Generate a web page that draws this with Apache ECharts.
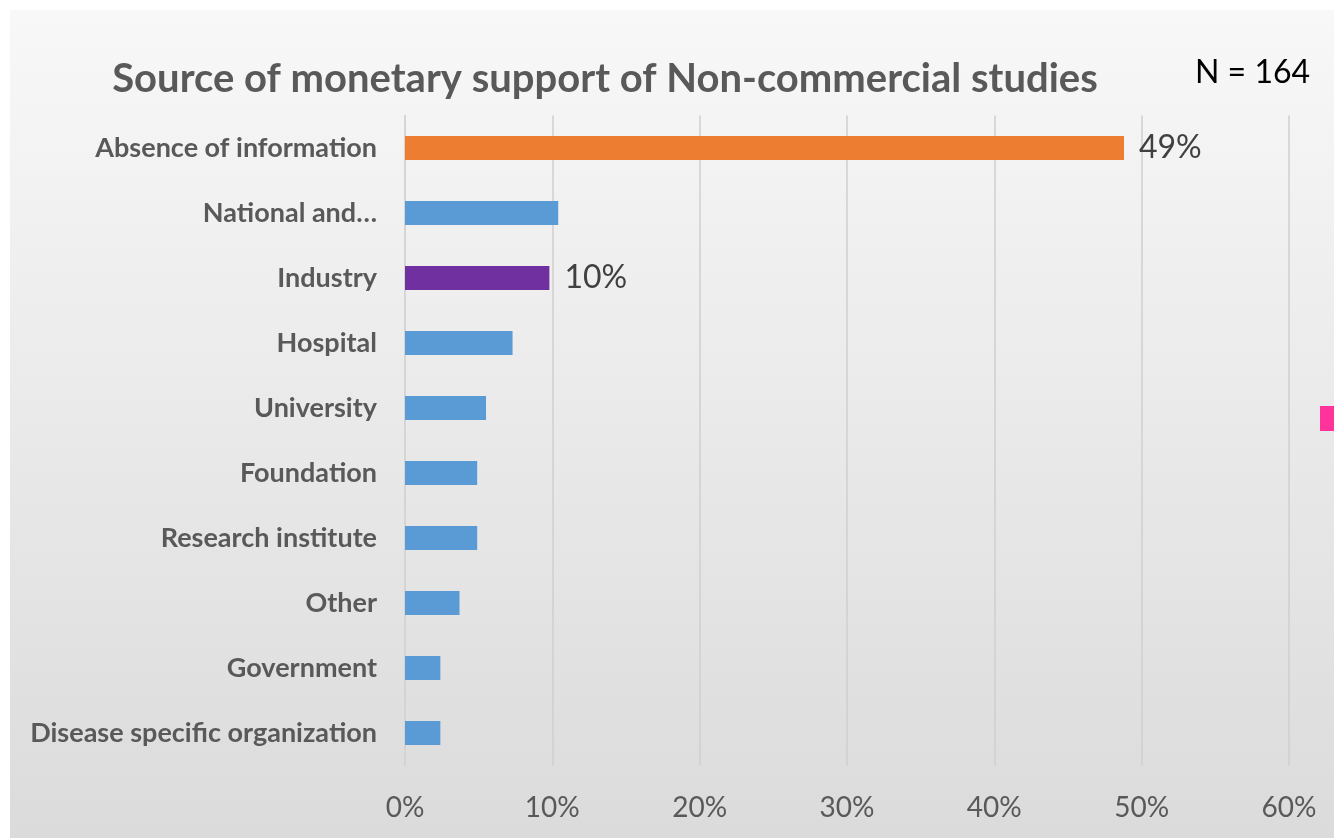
<!DOCTYPE html>
<html>
<head>
<meta charset="utf-8">
<script src="https://cdn.jsdelivr.net/npm/echarts@6/dist/echarts.min.js"></script>
<style>
  html, body { margin: 0; padding: 0; background: #fff; }
  #main { position: absolute; left: 10px; top: 10px; width: 1324px; height: 828px; }
</style>
</head>
<body>
<div id="main"></div>
<script>
const categories = [
  "Absence of information",
  "National and…",
  "Industry",
  "Hospital",
  "University",
  "Foundation",
  "Research institute",
  "Other",
  "Government",
  "Disease specific organization"
];
// share of studies, percent (N = 164)
const values = [48.8, 10.4, 9.8, 7.3, 5.5, 4.9, 4.9, 3.7, 2.4, 2.4];
const barColors = ["#ED7D31", "#5B9BD5", "#7030A0", "#5B9BD5", "#5B9BD5",
  "#5B9BD5", "#5B9BD5", "#5B9BD5", "#5B9BD5", "#5B9BD5"];
const shownLabels = ["49%", "", "10%", "", "", "", "", "", "", ""];
const tickValues = [0, 10, 20, 30, 40, 50, 60];

const chart = echarts.init(document.getElementById("main"));

const option = {
  backgroundColor: new echarts.graphic.LinearGradient(0, 0, 0, 1, [
    { offset: 0, color: "#f8f8f8" },
    { offset: 1, color: "#dbdbdb" }
  ]),
  textStyle: { fontFamily: "Lato" },
  title: {
    text: "Source of monetary support of Non-commercial studies",
    left: 590,
    top: 44,
    textAlign: "center",
    textStyle: { fontFamily: "Lato", fontWeight: "bold", fontSize: 40, color: "#595959" }
  },
  graphic: [
    {
      type: "text",
      left: 1185,
      top: 47,
      style: { text: "N = 164", font: "32px Lato", fill: "#000" }
    },
    {
      type: "rect",
      left: 1310,
      top: 396,
      shape: { width: 14, height: 25 },
      style: { fill: "#FF3399" }
    }
  ],
  grid: { left: 395, right: 45, top: 105.5, bottom: 72.5, containLabel: false },
  xAxis: {
    type: "value",
    min: tickValues[0],
    max: tickValues[tickValues.length - 1],
    interval: 10,
    axisLine: { show: false },
    axisTick: { show: false },
    splitLine: { lineStyle: { color: "#cfcfcf", width: 1.5 } },
    axisLabel: {
      formatter: "{value}%",
      fontSize: 28,
      color: "#595959",
      margin: 28
    }
  },
  yAxis: {
    type: "category",
    data: categories,
    inverse: true,
    axisLine: { show: true, lineStyle: { color: "#d4d4d4", width: 1.5 } },
    axisTick: { show: false },
    axisLabel: {
      fontSize: 27,
      fontWeight: "bold",
      color: "#595959",
      margin: 28
    }
  },
  series: [
    {
      type: "bar",
      barWidth: 24,
      data: values.map(function (v, i) {
        return {
          value: v,
          itemStyle: { color: barColors[i] },
          label: {
            show: shownLabels[i] !== "",
            formatter: shownLabels[i]
          }
        };
      }),
      label: {
        position: "right",
        distance: 15,
        fontSize: 32,
        color: "#404040"
      },
      animation: false
    }
  ],
  animation: false
};

chart.setOption(option);
</script>
</body>
</html>
